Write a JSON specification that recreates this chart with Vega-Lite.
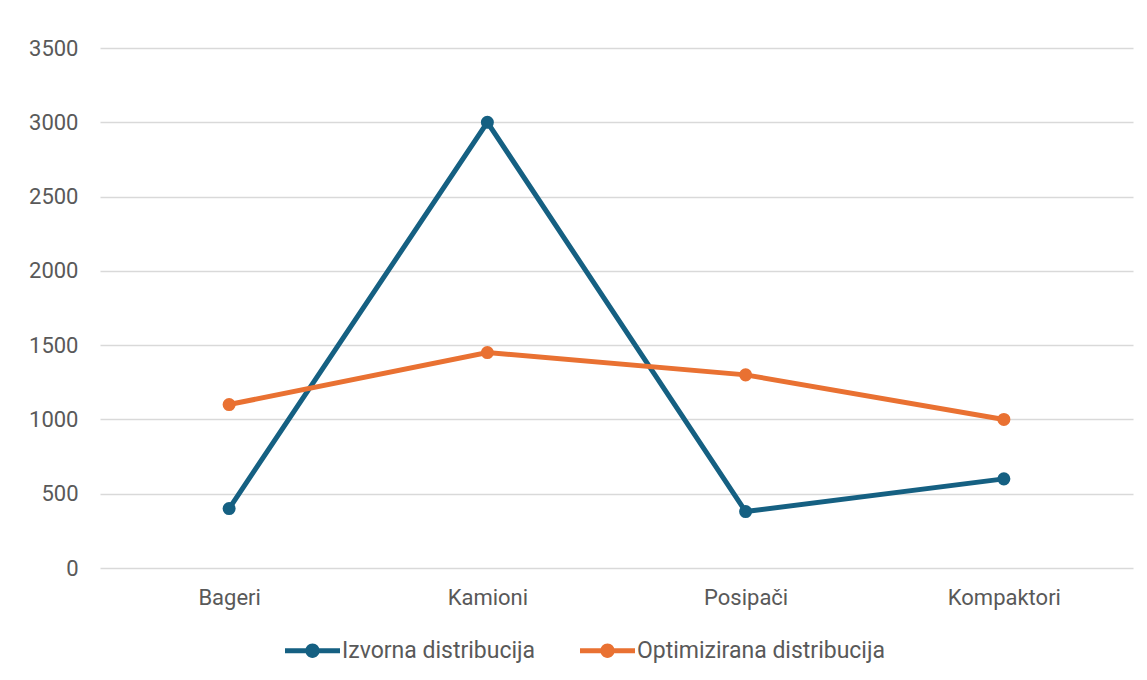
{
  "$schema": "https://vega.github.io/schema/vega-lite/v6.json",
  "width": 1033,
  "height": 520,
  "autosize": {"type": "none"},
  "padding": {"left": 100, "top": 48, "right": 14, "bottom": 112},
  "background": "white",
  "config": {
    "view": {"stroke": null},
    "font": "Roboto",
    "axis": {"labelFont": "Roboto", "labelColor": "#595959", "labelFontSize": 22, "ticks": false, "domain": false, "title": null},
    "legend": {"labelFont": "Roboto", "labelColor": "#595959", "labelFontSize": 23, "labelLimit": 500}
  },
  "data": {
    "values": [
      {"kat": "Bageri", "serija": "Izvorna distribucija", "v": 400},
      {"kat": "Kamioni", "serija": "Izvorna distribucija", "v": 3000},
      {"kat": "Posipači", "serija": "Izvorna distribucija", "v": 380},
      {"kat": "Kompaktori", "serija": "Izvorna distribucija", "v": 600},
      {"kat": "Bageri", "serija": "Optimizirana distribucija", "v": 1100},
      {"kat": "Kamioni", "serija": "Optimizirana distribucija", "v": 1450},
      {"kat": "Posipači", "serija": "Optimizirana distribucija", "v": 1300},
      {"kat": "Kompaktori", "serija": "Optimizirana distribucija", "v": 1000}
    ]
  },
  "mark": {"type": "line", "strokeWidth": 5, "point": {"filled": true, "size": 170, "opacity": 1}},
  "encoding": {
    "x": {
      "field": "kat", "type": "nominal", "sort": null,
      "scale": {"type": "point", "padding": 0.5},
      "axis": {"labelAngle": 0, "labelPadding": 19, "grid": false}
    },
    "y": {
      "field": "v", "type": "quantitative",
      "scale": {"domain": [0, 3500], "nice": false},
      "axis": {"values": [0, 500, 1000, 1500, 2000, 2500, 3000, 3500], "format": "d", "grid": true, "gridColor": "#d9d9d9", "gridWidth": 1.5, "labelPadding": 22}
    },
    "color": {
      "field": "serija", "type": "nominal",
      "scale": {"domain": ["Izvorna distribucija", "Optimizirana distribucija"], "range": ["#156082", "#E97132"]},
      "legend": {
        "title": null,
        "orient": "none",
        "legendX": 185,
        "legendY": 575,
        "direction": "horizontal",
        "symbolType": "M-1,-0.09 H1 V0.09 H-1 Z M-0.26,0 A0.26,0.26 0 1,1 0.26,0 A0.26,0.26 0 1,1 -0.26,0 Z",
        "symbolSize": 3025,
        "symbolStrokeWidth": 0,
        "labelOffset": 2,
        "columnPadding": 44,
        "encode": {"symbols": {"update": {"fill": {"scale": "color", "field": "value"}, "fillOpacity": {"value": 1}, "strokeWidth": {"value": 0}}}}
      }
    }
  }
}
